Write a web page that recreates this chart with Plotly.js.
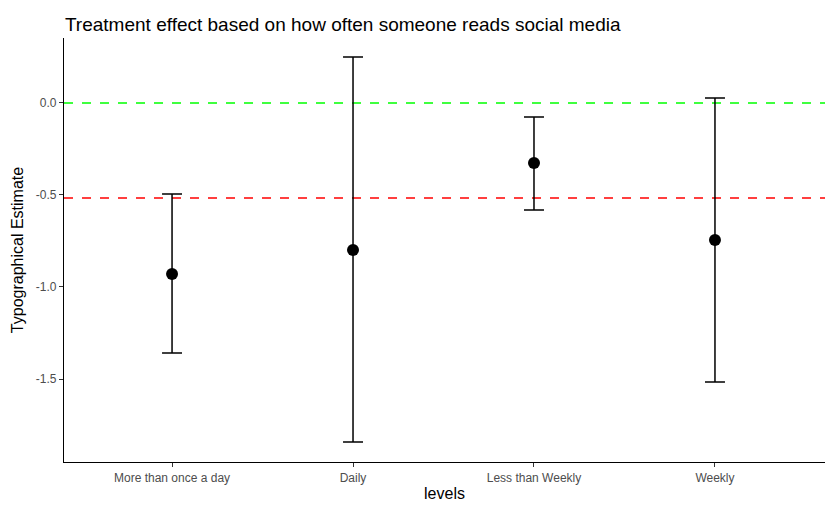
<!DOCTYPE html>
<html><head><script src="https://cdn.plot.ly/plotly-3.0.1.min.js"></script>
<style>body{margin:0}</style></head><body>
<div id="c" style="width:833px;height:515px"></div>
<script>
const categories = ["More than once a day","Daily","Less than Weekly","Weekly"];
const estimates = [-0.929, -0.799, -0.326, -0.745];
const upper = [-0.495, 0.250, -0.076, 0.027];
const lower = [-1.359, -1.842, -0.582, -1.516];
const zeroLine = 0;
const meanLine = -0.516;
const yTicks = [0, -0.5, -1, -1.5];
const yTickText = ["0.0","-0.5","-1.0","-1.5"];

const trace = {
  x: categories, y: estimates, type: "scatter", mode: "markers",
  marker: {color: "black", size: 12},
  error_y: {type: "data", symmetric: false,
    array: upper.map((u,i)=>u-estimates[i]),
    arrayminus: estimates.map((e,i)=>e-lower[i]),
    color: "black", thickness: 1.5, width: 10}
};
const hline = (y,c)=>({type:"line",xref:"paper",x0:0,x1:1,yref:"y",y0:y,y1:y,line:{color:c,width:1.5,dash:"dash"},layer:"below"});
Plotly.newPlot("c",[trace],{
  width:833,height:515,
  margin:{l:64,r:8,t:38,b:53},
  paper_bgcolor:"white",plot_bgcolor:"white",
  font:{family:"Liberation Sans, Arial, sans-serif"},
  title:{text:"Treatment effect based on how often someone reads social media",x:0.078,xanchor:"left",y:0.965,font:{size:19,color:"black"}},
  xaxis:{type:"category",range:[-0.597,3.608],title:{text:"levels",font:{size:16,color:"black"},standoff:4},showline:true,linecolor:"black",linewidth:1.2,ticks:"outside",ticklen:4,tickcolor:"#333",tickfont:{size:12,color:"#4d4d4d"},showgrid:false,zeroline:false},
  yaxis:{title:{text:"Typographical Estimate",font:{size:16,color:"black"},standoff:8},range:[-1.951,0.353],tickvals:yTicks,ticktext:yTickText,showline:true,linecolor:"black",linewidth:1.2,ticks:"outside",ticklen:4,tickcolor:"#333",tickfont:{size:12,color:"#4d4d4d"},showgrid:false,zeroline:false},
  shapes:[hline(zeroLine,"#00ff00"),hline(meanLine,"#ff0000")],
  showlegend:false
},{displayModeBar:false});
</script></body></html>
